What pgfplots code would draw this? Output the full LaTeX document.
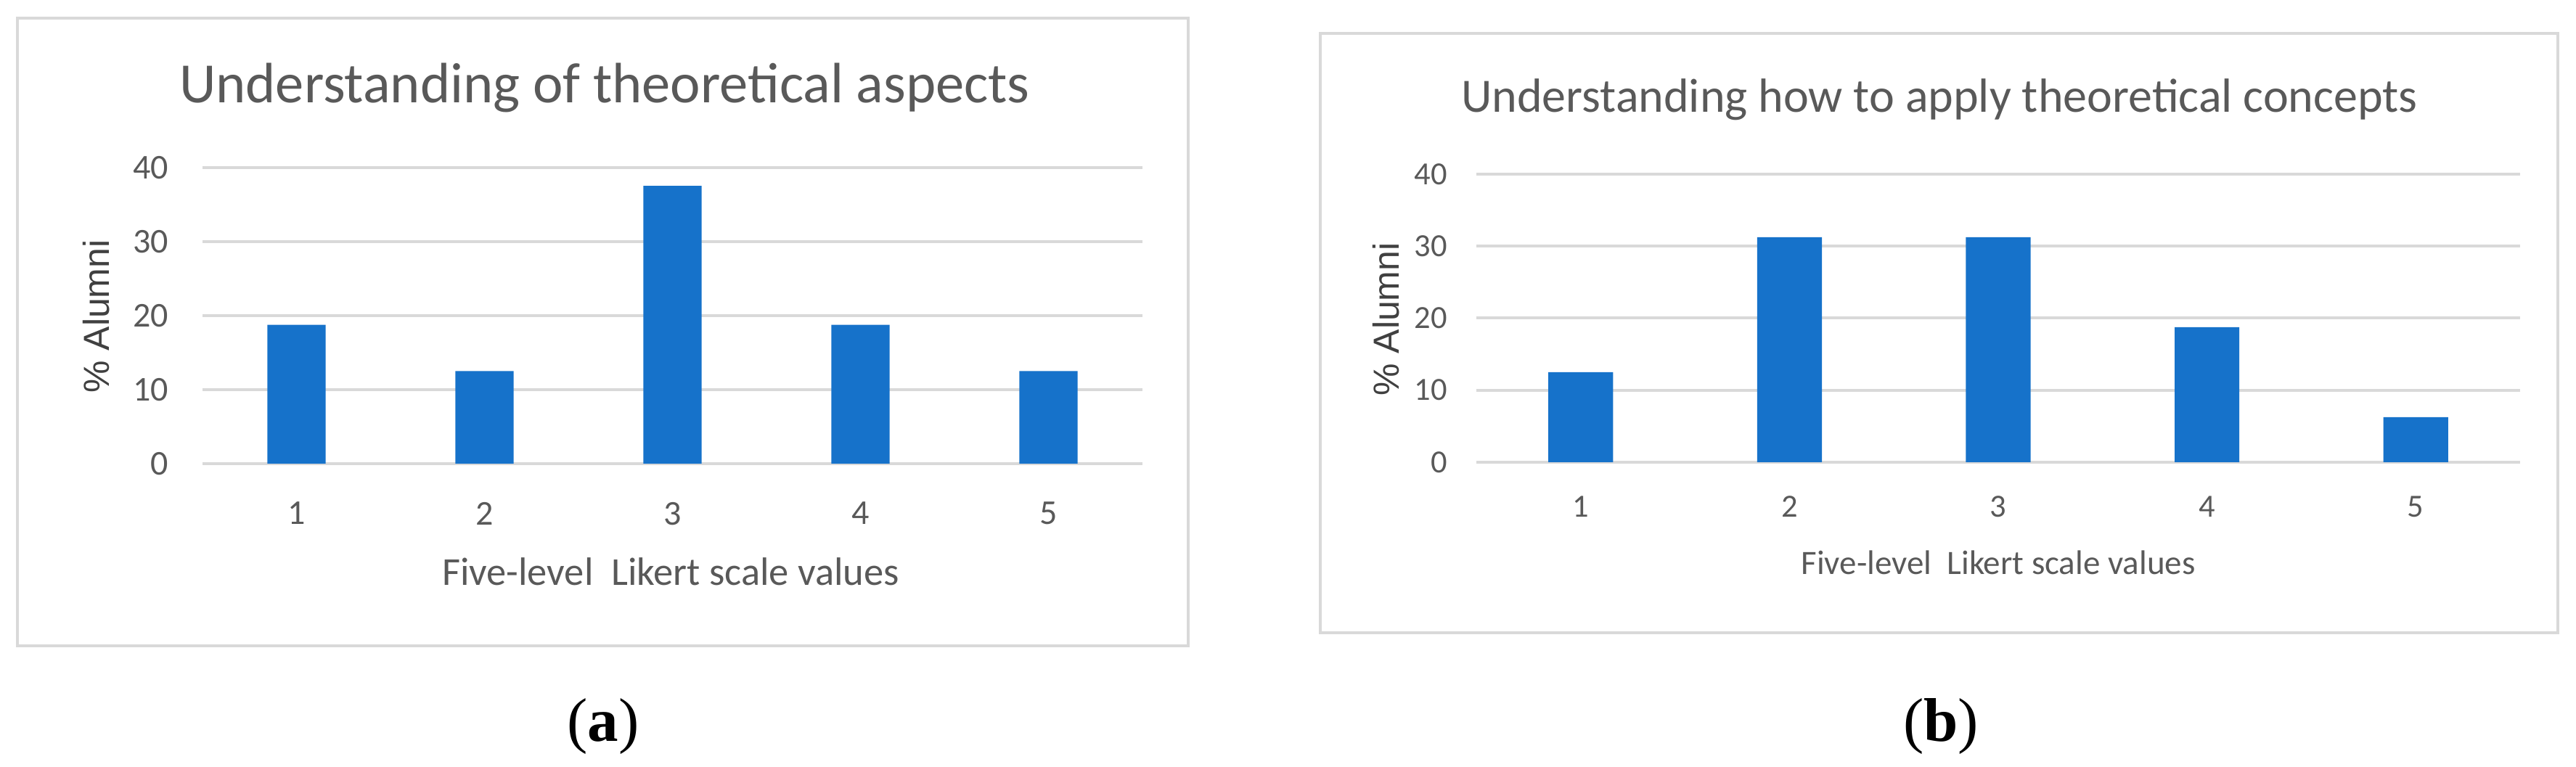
\documentclass[border=0pt]{standalone}
\usepackage{fontspec}
\setmainfont{Carlito}
\newfontfamily\ylabfont{Liberation Sans}
\newfontfamily\capfont{Liberation Serif}
\usepackage{pgfplots}
\pgfplotsset{compat=1.18}
\definecolor{barblue}{RGB}{22,114,202}
\definecolor{gridgray}{RGB}{217,217,217}
\definecolor{txtgray}{RGB}{89,89,89}
\definecolor{ylabgray}{RGB}{64,64,64}
\pgfplotsset{
  likert/.style={
    scale only axis,
    anchor=south west,
    xmin=0.5, xmax=5.5, ymin=0, ymax=40,
    xtick={1,2,3,4,5}, ytick={0,10,20,30,40},
    axis line style={draw=none},
    major tick length=0pt,
    ymajorgrids,
    grid style={draw=gridgray, line width=0.8pt},
    /pgf/number format/assume math mode=true,
    ticklabel style={text=txtgray},
    bar width=0.31,
    every axis title shift=0pt,
    title style={text=txtgray, anchor=base, inner sep=0pt},
    xlabel style={text=txtgray, anchor=base, inner sep=0pt, at={(0.5,0)}},
    ylabel style={text=ylabgray, anchor=center, inner sep=0pt, font=\ylabfont\fontsize{10}{12}\selectfont},
  },
  bstyle/.style={ybar, fill=barblue, draw=none},
}
\begin{document}
\begin{tikzpicture}
\useasboundingbox (0,0) rectangle (709.8pt,211.4pt);
% panel frames
\draw[gridgray, line width=0.8pt] (4.8pt,33.4pt) rectangle (327.4pt,206.4pt);
\draw[gridgray, line width=0.8pt] (363.8pt,37pt) rectangle (704.8pt,202.1pt);
% (a)
\begin{axis}[likert,
  at={(55.8pt,83.6pt)}, width=259pt, height=81.68pt,
  title={Understanding of theoretical aspects},
  title style={at={(0.4278,1.218)}, font=\fontsize{15.7}{18}\selectfont},
  xlabel={Five-level~ Likert scale values},
  xlabel style={at={(0.498,-0.409)}, font=\fontsize{10.9}{12}\selectfont},
  ylabel={\% Alumni},
  ylabel style={at={(-0.113,0.497)}},
  yticklabel style={anchor=east, inner sep=0pt, xshift=-9.2pt, font=\fontsize{9.6}{11}\selectfont},
  xticklabel style={anchor=north, inner sep=0pt, yshift=-10.4pt, font=\fontsize{9.6}{11}\selectfont},
]
\addplot[bstyle] coordinates {(1,18.75) (2,12.5) (3,37.5) (4,18.75) (5,12.5)};
\end{axis}
% (b)
\begin{axis}[likert,
  at={(406.8pt,84.04pt)}, width=287.6pt, height=79.36pt,
  title={Understanding how to apply theoretical concepts},
  title style={at={(0.4437,1.2167)}, font=\fontsize{13.2}{16}\selectfont},
  xlabel={Five-level~ Likert scale values},
  xlabel style={at={(0.5,-0.391)}, font=\fontsize{9.4}{11}\selectfont},
  ylabel={\% Alumni},
  ylabel style={at={(-0.0862,0.496)}},
  yticklabel style={anchor=east, inner sep=0pt, xshift=-7.8pt, font=\fontsize{8.9}{10}\selectfont},
  xticklabel style={anchor=north, inner sep=0pt, yshift=-9.2pt, font=\fontsize{8.9}{10}\selectfont},
]
\addplot[bstyle] coordinates {(1,12.5) (2,31.25) (3,31.25) (4,18.75) (5,6.25)};
\end{axis}
\node[inner sep=0pt] at (166.2pt,11.2pt) {\capfont\fontsize{17}{20}\selectfont(\textbf{a})};
\node[inner sep=0pt] at (534.8pt,11.2pt) {\capfont\fontsize{17}{20}\selectfont(\textbf{b})};
\end{tikzpicture}
\end{document}
